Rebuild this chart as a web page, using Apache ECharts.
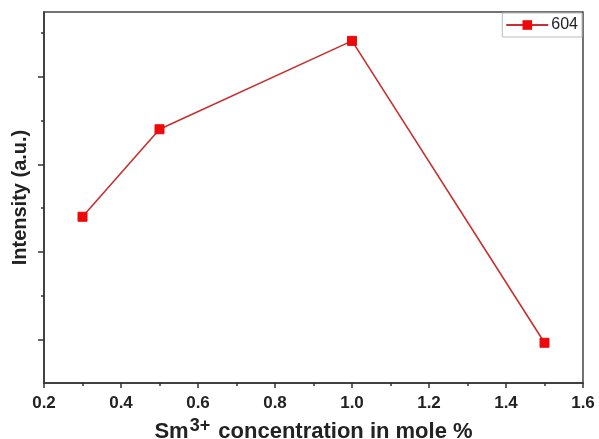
<!DOCTYPE html>
<html>
<head>
<meta charset="utf-8">
<script src="https://cdn.jsdelivr.net/npm/echarts@6/dist/echarts.min.js"></script>
<style>
  html, body { margin: 0; padding: 0; background: #fff; }
  #chart { width: 599px; height: 439px; }
</style>
</head>
<body>
<div id="chart"></div>
<script>
  // Sm3+ concentration (mole %) vs emission intensity at 604 nm (arbitrary units)
  var concentration = [0.3, 0.5, 1.0, 1.5];
  var intensity604 = [1.90, 2.90, 3.91, 0.46];
  var xTickLabels = ['0.2', '0.4', '0.6', '0.8', '1.0', '1.2', '1.4', '1.6'];
  var yMajorTicks = [0.5, 1.5, 2.5, 3.5];
  var yMinorTicks = [1, 2, 3, 4];

  var chart = echarts.init(document.getElementById('chart'));
  var font = 'Liberation Sans, Arial, sans-serif';

  chart.setOption({
    animation: false,
    grid: {
      left: 44, right: 16, top: 12, bottom: 56,
      outerBoundsMode: 'none',
      show: true, borderColor: '#444', borderWidth: 1.5
    },
    legend: {
      right: 17, top: 13,
      padding: [4, 4, 4, 3],
      borderColor: '#bbb', borderWidth: 1,
      itemWidth: 42, itemHeight: 12, itemGap: 4,
      textStyle: { fontFamily: font, fontSize: 16, color: '#222', padding: [0, 0, 0, -2] },
      data: ['604']
    },
    xAxis: {
      type: 'value', min: 0.2, max: 1.6, interval: 0.2,
      axisLine: { lineStyle: { color: '#333', width: 1.5 } },
      axisTick: { length: 5, lineStyle: { color: '#333', width: 1.5 } },
      minorTick: { show: true, splitNumber: 2, length: 3, lineStyle: { color: '#333', width: 1.5 } },
      splitLine: { show: false },
      axisLabel: {
        margin: 12, fontFamily: font, fontSize: 17, fontWeight: 'bold', color: '#222',
        formatter: function (v) { return xTickLabels[Math.round((v - 0.2) / 0.2)]; }
      },
      name: '{a|Sm}{s|3+}{a| concentration in mole %}',
      nameLocation: 'middle', nameGap: 34,
      nameTextStyle: {
        rich: {
          a: { fontFamily: font, fontSize: 22, fontWeight: 'bold', color: '#222', verticalAlign: 'bottom', lineHeight: 26 },
          s: { fontFamily: font, fontSize: 18, fontWeight: 'bold', color: '#222', verticalAlign: 'top', lineHeight: 26, padding: [0, 2, 12, 1] }
        }
      }
    },
    yAxis: [{
      type: 'value', min: 0, max: 4.24,
      axisLine: { show: true, lineStyle: { color: '#333', width: 1.5 } },
      axisTick: { show: true, length: 6, customValues: yMajorTicks, lineStyle: { color: '#333', width: 1.5 } },
      axisLabel: { show: false },
      splitLine: { show: false },
      name: 'Intensity (a.u.)',
      nameLocation: 'middle', nameGap: 14,
      nameTextStyle: { fontFamily: font, fontSize: 20, fontWeight: 'bold', color: '#222' }
    }, {
      type: 'value', min: 0, max: 4.24, position: 'left',
      axisLine: { show: false },
      axisTick: { show: true, length: 3, customValues: yMinorTicks, lineStyle: { color: '#333', width: 1.5 } },
      axisLabel: { show: false },
      splitLine: { show: false }
    }],
    series: [{
      name: '604',
      type: 'line',
      data: concentration.map(function (c, i) { return [c, intensity604[i]]; }),
      symbol: 'rect', symbolSize: 9,
      lineStyle: { color: '#c8302f', width: 1.6 },
      itemStyle: { color: '#ee0a0a', borderColor: '#ee0a0a' }
    }]
  });
</script>
</body>
</html>
